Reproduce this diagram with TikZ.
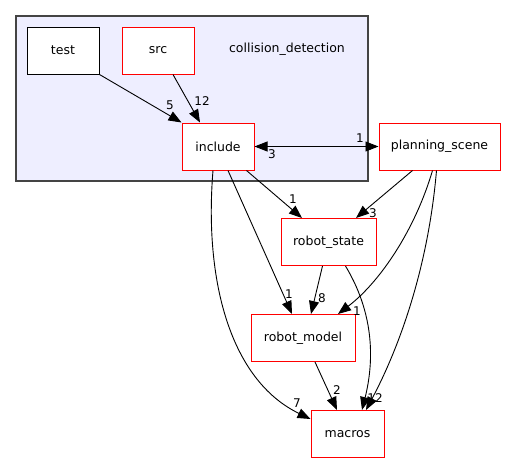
\documentclass[tikz,border=0pt]{standalone}
\usepackage{fontspec}
\setmainfont{DejaVu Sans}
\usetikzlibrary{arrows.meta,calc}
\definecolor{clusterbg}{RGB}{238,238,255}
\definecolor{clusterline}{RGB}{68,68,68}
\tikzset{
  dirbox/.style={draw=red, fill=white, line width=1pt, inner sep=0pt, minimum height=47},
  plainbox/.style={dirbox, draw=black},
  tip/.tip={Triangle[length=13pt,width=10pt]},
  dep/.style={-tip, line width=0.9pt},
  cnt/.style={inner sep=0pt, font=\fontsize{12}{14}\selectfont},
}

\begin{document}
\begin{tikzpicture}[x=1pt, y=-1pt, font=\fontsize{12.5}{15}\selectfont]
  \useasboundingbox (0,0) rectangle (506,464);
  % cluster
  \draw[fill=clusterbg, draw=clusterline, line width=1.2pt] (16,16) rectangle (368,181);
  \node (cd) at (287,49) {collision\_detection};
  % directories
  \node[plainbox, minimum width=72] (test) at (63,50.5) {test};
  \node[dirbox, minimum width=72] (src) at (158,50.5) {src};
  \node[dirbox, minimum width=72] (inc) at (218,146.5) {include};
  \node[dirbox, minimum width=121] (ps) at (439.5,146.5) {planning\_scene};
  \node[dirbox, minimum width=95] (rs) at (328.5,242) {robot\_state};
  \node[dirbox, minimum width=104] (rm) at (303,338) {robot\_model};
  \node[dirbox, minimum width=73] (mac) at (347.5,434) {macros};
  % dependencies
  \draw[dep] (test.south east) -- (inc.north west);
  \draw[dep] ($(src.south)+(15,0)$) -- ($(inc.north)+(-18,0)$);
  \draw[dep, tip-tip] (inc.east) -- (ps.west);
  \draw[dep] ($(inc.south east)+(-8,0)$) -- ($(rs.north)+(-26.5,0)$);
  \draw[dep] ($(ps.south)+(-27,0)$) -- ($(rs.north)+(27.5,0)$);
  \draw[dep] ($(inc.south)+(10,0)$) -- ($(rm.north)+(-11,0)$);
  \draw[dep] ($(rs.south)+(-6,0)$) -- ($(rm.north)+(8,0)$);
  \draw[dep] ($(ps.south)+(-7,0)$) .. controls (415,230) and (380,282) .. ($(rm.north)+(35,0)$);
  \draw[dep] ($(inc.south)+(-5,0)$) .. controls (204,280) and (230,380) .. ($(mac.west)+(0,-15)$);
  \draw[dep] ($(rs.south)+(17,0)$) .. controls (378,320) and (372,370) .. ($(mac.north)+(14.5,0)$);
  \draw[dep] ($(ps.south)+(-3,0)$) .. controls (428,270) and (398,350) .. ($(mac.north)+(18.5,0)$);
  \draw[dep] ($(rm.south)+(12,0)$) -- ($(mac.north)+(-10.5,0)$);
  % counts
  \node[cnt] (c1) at (170,105) {5};
  \node[cnt] (c2) at (202,101) {12};
  \node[cnt] (c3) at (360,138) {1};
  \node[cnt] (c4) at (272,154) {3};
  \node[cnt] (c5) at (293,199) {1};
  \node[cnt] (c6) at (373,213) {3};
  \node[cnt] (c7) at (289,294) {1};
  \node[cnt] (c8) at (322,298) {8};
  \node[cnt] (c9) at (357,311) {1};
  \node[cnt] (c10) at (337,390) {2};
  \node[cnt] (c11) at (297,403) {7};
  \node[cnt] (c12) at (375,398) {12};
\end{tikzpicture}
\end{document}
